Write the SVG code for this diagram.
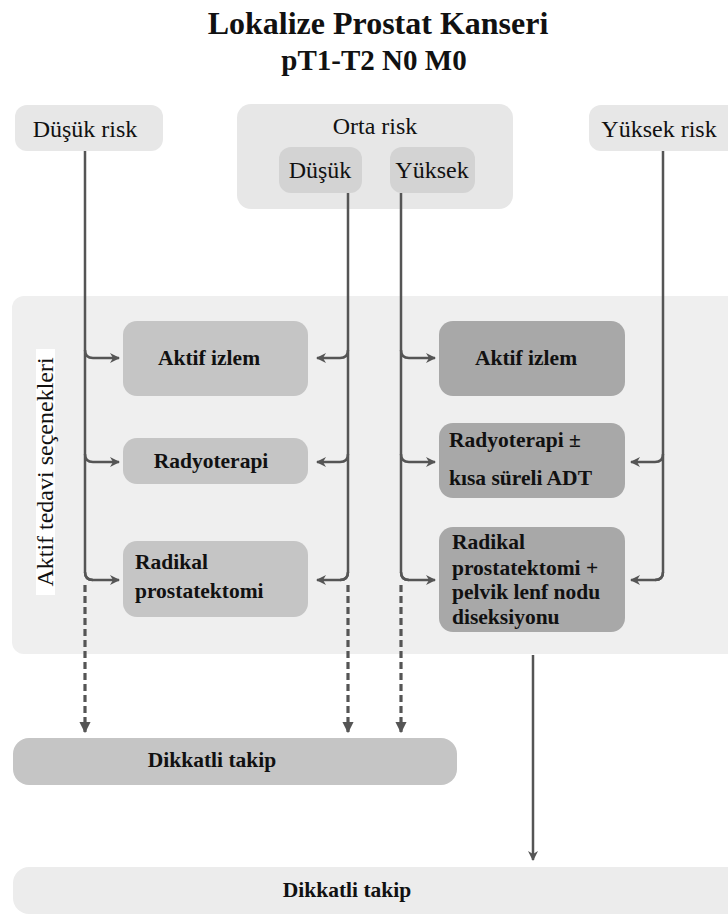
<svg xmlns="http://www.w3.org/2000/svg" width="728" height="914" viewBox="0 0 728 914">
<defs>
<marker id="ah" viewBox="0 0 10 10" refX="9" refY="5" markerWidth="4" markerHeight="4" orient="auto" markerUnits="strokeWidth">
<path d="M0,0 L10,5 L0,10 L3,5 z" fill="#555"/>
</marker>
<marker id="ahd" viewBox="0 0 10 10" refX="9" refY="5" markerWidth="3.5" markerHeight="3.5" orient="auto" markerUnits="strokeWidth">
<path d="M0,0 L10,5 L0,10 z" fill="#555"/>
</marker>
</defs>
<style>
.reg{font-size:24px}
.b{font-size:21.5px;font-weight:bold}
.top{fill:#e7e7e7}
.sub{fill:#d3d3d3}
.opt{fill:#c5c5c5}
.optd{fill:#a8a8a8}
.ln{fill:none;stroke:#555;stroke-width:2.5}
.ar{marker-end:url(#ah)}
.dash{fill:none;stroke:#555;stroke-width:3.2;stroke-dasharray:7 4;marker-end:url(#ahd)}
</style>
<rect width="728" height="914" fill="#fff"/>
<g font-family="'Liberation Serif', 'DejaVu Serif', 'Times New Roman', serif" fill="#111">
<g id="title">
<text font-weight="bold" x="378" y="34" font-size="32" text-anchor="middle">Lokalize Prostat Kanseri</text>
<text font-weight="bold" x="374" y="70" font-size="29" text-anchor="middle">pT1-T2 N0 M0</text>
</g>
<g id="panel">
<rect x="12" y="296" width="730" height="358" rx="12" fill="#efefef"/>
<rect x="36" y="349" width="19" height="246" fill="#fff"/>
<text transform="translate(53,472) rotate(-90)" text-anchor="middle" font-size="24">Aktif tedavi seçenekleri</text>
</g>
<g id="dusuk-risk">
<rect class="top" x="15" y="105" width="148" height="46" rx="12"/>
<text class="reg" x="85" y="137" text-anchor="middle">Düşük risk</text>
</g>
<g id="orta-risk">
<rect class="top" x="237" y="104" width="276" height="105" rx="14"/>
<text class="reg" x="375" y="134" text-anchor="middle">Orta risk</text>
</g>
<g id="orta-dusuk">
<rect class="sub" x="279" y="147" width="83" height="46" rx="12"/>
<text class="reg" x="320" y="178" text-anchor="middle">Düşük</text>
</g>
<g id="orta-yuksek">
<rect class="sub" x="390" y="147" width="85" height="46" rx="12"/>
<text class="reg" x="432" y="178" text-anchor="middle">Yüksek</text>
</g>
<g id="yuksek-risk">
<rect class="top" x="589" y="105" width="150" height="46" rx="12"/>
<text class="reg" x="659" y="137" text-anchor="middle">Yüksek risk</text>
</g>
<g id="l-aktif">
<rect class="opt" x="123" y="321" width="185" height="75" rx="14"/>
<text class="b" x="209" y="365" text-anchor="middle">Aktif izlem</text>
</g>
<g id="l-radyo">
<rect class="opt" x="123" y="438" width="185" height="46" rx="14"/>
<text class="b" x="211" y="468" text-anchor="middle">Radyoterapi</text>
</g>
<g id="l-radikal">
<rect class="opt" x="123" y="541" width="185" height="76" rx="14"/>
<text class="b" x="135" y="569">Radikal</text>
<text class="b" x="135" y="598">prostatektomi</text>
</g>
<g id="r-aktif">
<rect class="optd" x="439" y="321" width="186" height="75" rx="14"/>
<text class="b" x="526" y="365" text-anchor="middle">Aktif izlem</text>
</g>
<g id="r-radyo">
<rect class="optd" x="439" y="423" width="186" height="75" rx="14"/>
<text class="b" x="449" y="447">Radyoterapi ±</text>
<text class="b" x="449" y="485">kısa süreli ADT</text>
</g>
<g id="r-radikal">
<rect class="optd" x="439" y="527" width="186" height="105" rx="14"/>
<text class="b" x="452" y="549">Radikal</text>
<text class="b" x="452" y="575">prostatektomi +</text>
<text class="b" x="452" y="599">pelvik lenf nodu</text>
<text class="b" x="452" y="624">diseksiyonu</text>
</g>
<g id="takip1">
<rect class="opt" x="13" y="738" width="444" height="47" rx="16"/>
<text class="b" x="212" y="767" text-anchor="middle">Dikkatli takip</text>
</g>
<g id="takip2">
<rect fill="#ececec" x="13" y="867" width="730" height="47" rx="16"/>
<text class="b" x="347" y="897" text-anchor="middle">Dikkatli takip</text>
</g>
</g>
<g id="connectors">
<path class="ln" d="M85,151 V572 Q85,580 93,580"/>
<path class="ln ar" d="M85,350 Q85,358 93,358 H119"/>
<path class="ln ar" d="M85,454 Q85,462 93,462 H119"/>
<path class="ln ar" d="M85,572 Q85,580 93,580 H119"/>
<path class="dash" d="M85,585 V732"/>
<path class="ln" d="M348,193 V572 Q348,580 340,580"/>
<path class="ln ar" d="M348,350 Q348,358 340,358 H317"/>
<path class="ln ar" d="M348,454 Q348,462 340,462 H317"/>
<path class="ln ar" d="M348,572 Q348,580 340,580 H317"/>
<path class="dash" d="M348,585 V732"/>
<path class="ln" d="M401,193 V572 Q401,580 409,580"/>
<path class="ln ar" d="M401,350 Q401,358 409,358 H435"/>
<path class="ln ar" d="M401,454 Q401,462 409,462 H435"/>
<path class="ln ar" d="M401,572 Q401,580 409,580 H435"/>
<path class="dash" d="M401,585 V732"/>
<path class="ln" d="M663,151 V572 Q663,580 655,580"/>
<path class="ln ar" d="M663,454 Q663,462 655,462 H631"/>
<path class="ln ar" d="M663,572 Q663,580 655,580 H631"/>
<path class="ln ar" d="M533,655 V860"/>
</g>
</svg>
